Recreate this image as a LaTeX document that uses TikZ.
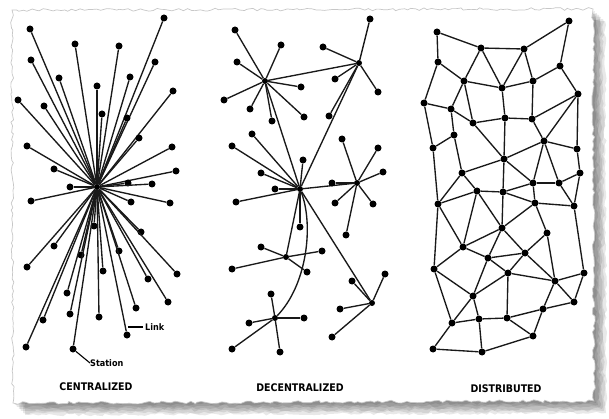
\documentclass[tikz,border=0pt]{standalone}
\usepackage{fontspec}
\newfontfamily\labfont{DejaVu Sans Condensed}
\usetikzlibrary{decorations.pathmorphing}
\begin{document}
\begin{tikzpicture}[x=1pt,y=-1pt,
  dot/.style={circle,fill=black,inner sep=0pt,minimum size=7pt},
  hubdot/.style={circle,fill=black,inner sep=0pt,minimum size=6pt},
  link/.style={line width=1.35pt,black!90},
  torn/.style={decorate,decoration={random steps,segment length=4pt,amplitude=1.4pt}},
  title/.style={font=\labfont\bfseries\fontsize{10.5}{12}\selectfont,inner sep=0pt},
  small/.style={font=\labfont\bfseries\fontsize{9}{11}\selectfont,inner sep=0pt}]
\useasboundingbox (0,0) rectangle (609,419);
\fill[white] (0,0) rectangle (609,419);
% shadow
\pgfmathsetseed{11}
\foreach \d in {2,4,6,8,10,12}{
  \fill[black,opacity=0.09,torn] (12+\d,10+\d) -- (593+\d,9+\d) -- (594+\d,401+\d) -- (13+\d,403+\d) -- cycle;
}
% paper
\pgfmathsetseed{5}
\filldraw[fill=white,draw=black!22,line width=0.7pt,torn] (12,10) -- (593,9) -- (594,401) -- (13,403) -- cycle;

% ---------------- CENTRALIZED ----------------
\node[hubdot] (c0) at (97,187) {};
\foreach \x/\y [count=\i] in {164/18,30/29,75/44,119/46,31/60,155/62,59/78,130/77,97/86,173/91,
  18/100,44/106,102/114,127/118,139/138,27/146,172/147,54/169,176/171,70/187,
  128/183,152/184,31/201,131/202,170/203,94/226,141/232,54/246,81/255,119/251,
  27/267,103/271,177/274,148/279,67/293,168/302,136/308,70/314,99/317,43/320,
  127/335,26/347,73/349}{
  \node[dot] (c\i) at (\x,\y) {};
  \draw[link] (c0) -- (c\i);
}
\node[small,anchor=west] (linklab) at (145,327) {Link};
\coordinate (linkend) at (128,327);
\draw[line width=1.1pt] (linklab.west) ++(-2,0) coordinate (linkstart) (linkstart) -- (linkend);
\node[small,anchor=west] (statlab) at (90,363) {Station};
\draw[line width=1.1pt] (c43) -- (statlab.west);

% ---------------- DECENTRALIZED ----------------
\node[hubdot] (dA) at (265,81) {};
\node[hubdot] (dB) at (359,63) {};
\node[hubdot] (dC) at (300,189) {};
\node[hubdot] (dD) at (357,183) {};
\node[hubdot] (dE) at (286,257) {};
\node[hubdot] (dF) at (372,303) {};
\node[hubdot] (dG) at (275,318) {};
\draw[link] (dA) -- (dB);
\draw[link] (dA) -- (dC);
\draw[link] (dB) -- (dC);
\draw[link] (dC) -- (dD);
\draw[link] (dC) -- (dE);
\draw[link] (dC) -- (dF);
\draw[link] (dC) .. controls (314,225) and (307,285) .. (dG);
\foreach \h/\pts in {A/{235/30,281/45,237/62,301/87,224/100,250/109,272/121,304/117},
  B/{370/19,323/47,335/79,378/92,329/116},
  C/{252/134,232/146,303/160,261/173,275/189,236/202,300/227},
  D/{342/139,378/148,383/172,332/183,335/203,373/204,346/235},
  E/{261/247,322/251,232/269,307/272},
  F/{352/281,385/274,340/309,332/337},
  G/{271/294,249/323,304/318,232/349,280/352}}{
  \foreach \x/\y [count=\i] in \pts {
    \node[dot] (d\h\i) at (\x,\y) {};
    \draw[link] (d\h) -- (d\h\i);
  }
}

% ---------------- DISTRIBUTED ----------------
\foreach \x/\y [count=\i] in {437/32,569/21,481/48,524/49,438/62,560/66,464/81,533/81,502/88,578/94,
  424/103,451/109,505/118,532/119,473/123,454/135,544/141,433/148,577/149,504/159,
  462/173,580/173,533/183,559/183,477/191,503/192,438/204,535/203,574/206,502/228,
  547/233,463/247,525/253,488/258,434/269,508/273,584/273,555/281,473/296,574/302,
  543/309,452/323,479/319,507/318,533/336,433/349,482/352}{
  \node[dot] (n\i) at (\x,\y) {};
}
\foreach \a/\b in {1/3,1/5,3/4,4/2,2/6,3/7,3/9,4/9,4/8,6/8,6/10,5/7,5/11,7/9,9/8,7/12,7/15,
  9/13,8/14,10/14,10/17,10/19,11/12,11/18,12/15,12/16,15/13,13/14,14/17,15/20,16/18,16/21,
  13/20,17/20,17/19,17/23,17/24,19/22,22/24,20/21,20/23,20/26,21/25,23/24,23/26,18/27,21/27,
  27/25,27/32,27/35,25/32,25/30,26/30,26/28,23/28,24/29,28/29,22/29,28/30,28/31,29/37,
  30/32,30/33,30/34,31/33,31/38,32/34,32/35,33/34,33/36,33/38,34/36,34/39,35/39,35/42,
  36/38,36/39,36/44,37/38,37/40,38/40,38/41,39/42,39/43,40/41,41/45,42/43,43/44,44/41,
  44/45,42/46,43/47,46/47,47/45,25/26}{
  \draw[link] (n\a) -- (n\b);
}

% titles
\node[title] (t1) at (96,387) {CENTRALIZED};
\node[title] (t2) at (300,388) {DECENTRALIZED};
\node[title] (t3) at (506,389) {DISTRIBUTED};
\end{tikzpicture}
\end{document}
